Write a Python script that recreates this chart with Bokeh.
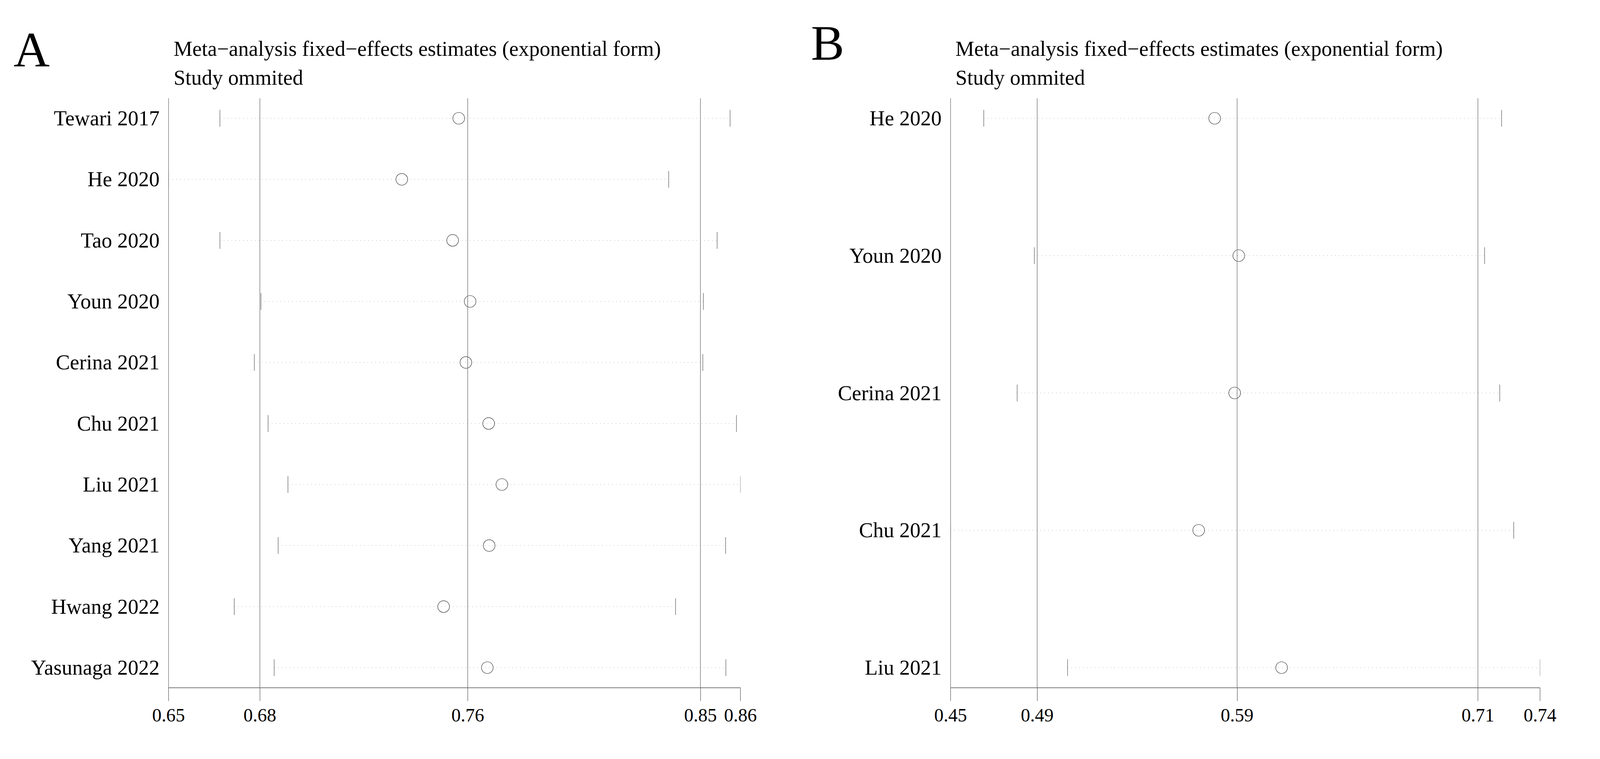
import math
from bokeh.plotting import figure
from bokeh.models import Range1d, FixedTicker, Span, ColumnDataSource
from bokeh.layouts import row, column
from bokeh.core.properties import value
from bokeh.embed import file_html
from bokeh.resources import INLINE

# ---------------- data ----------------
title_line1 = "Meta\u2212analysis fixed\u2212effects estimates (exponential form)"
title_line2 = "Study ommited"

studies_a = ["Tewari 2017", "He 2020", "Tao 2020", "Youn 2020", "Cerina 2021",
             "Chu 2021", "Liu 2021", "Yang 2021", "Hwang 2022", "Yasunaga 2022"]
est_a = [0.7581, 0.7366, 0.7558, 0.7624, 0.7608, 0.7694, 0.7744, 0.7696, 0.7524, 0.7689]
lo_a = [0.6679, 0.6485, 0.6679, 0.6834, 0.6809, 0.6861, 0.6936, 0.6899, 0.6733, 0.6884]
hi_a = [0.8606, 0.8374, 0.8557, 0.8505, 0.8503, 0.8630, 0.8645, 0.8589, 0.8400, 0.8590]
ticks_a = [0.6485, 0.6830, 0.7615, 0.8494, 0.8645]
tick_labels_a = ["0.65", "0.68", "0.76", "0.85", "0.86"]

studies_b = ["He 2020", "Youn 2020", "Cerina 2021", "Chu 2021", "Liu 2021"]
est_b = [0.5797, 0.5916, 0.5896, 0.5718, 0.6128]
lo_b = [0.4656, 0.4906, 0.4821, 0.4492, 0.5070]
hi_b = [0.7215, 0.7131, 0.7206, 0.7275, 0.7405]
ticks_b = [0.4492, 0.4920, 0.5908, 0.7098, 0.7405]
tick_labels_b = ["0.45", "0.49", "0.59", "0.71", "0.74"]

# ---------------- layout ----------------
# the visible page is 4096 px wide and 1944 px tall: horizontal reference
# positions are scaled to that width, vertical ones are kept.
SX = 4096 / 6000.0


def cx(v):
    return v * SX


FONT = "Liberation Serif"
FS_PX = 54
FS = "%dpx" % FS_PX
TICK_FS = "48px"
LETTER_PX = 128
LETTER_FS = "%dpx" % LETTER_PX
PANEL_W = 2040
HEAD_H = 240
PLOT_H = 1688
MID = 0.3375


def header(letter, letter_x, letter_base, title_x, page_left):
    h = figure(width=PANEL_W, height=HEAD_H, output_backend="svg", toolbar_location=None,
               x_range=Range1d(0, PANEL_W), y_range=Range1d(HEAD_H, 0),
               min_border=0, min_border_left=0, min_border_right=0,
               min_border_top=0, min_border_bottom=0)
    h.axis.visible = False
    h.grid.visible = False
    h.outline_line_color = None
    h.text(x=[cx(letter_x) - page_left], y=[letter_base - MID * LETTER_PX + 12 - 8],
           text=[letter], text_font=value(FONT), text_font_size=value(LETTER_FS),
           text_color="black", text_baseline="middle", text_align="left")
    tx = cx(title_x) - page_left
    h.text(x=[tx, tx], y=[141 - MID * FS_PX + 10 - 8, 215 - MID * FS_PX + 10 - 8],
           text=[title_line1, title_line2],
           text_font=value(FONT), text_font_size=value(FS), text_color="black",
           text_baseline="middle", text_align="left")
    return h


def panel(studies, est, lo, hi, ticks, tick_labels, border_left, border_right):
    n = len(studies)
    border_top = 11
    border_bottom = 167
    frame_h = PLOT_H - border_top - border_bottom
    pad_px = 51.5
    spacing = (frame_h - 2 * pad_px) / (n - 1)
    pad = pad_px / spacing
    ys = list(range(1, n + 1))

    p = figure(width=PANEL_W, height=PLOT_H, output_backend="svg", toolbar_location=None,
               x_range=Range1d(min(ticks), max(ticks)),
               y_range=Range1d(n + pad, 1 - pad),
               min_border_left=border_left, min_border_right=border_right,
               min_border_top=border_top, min_border_bottom=border_bottom)
    p.outline_line_color = None
    p.xgrid.visible = False
    p.ygrid.visible = False

    # reference lines: overall lower CI, estimate, upper CI
    for v in ticks[1:4]:
        p.add_layout(Span(location=v, dimension="height",
                          line_color="#5e5e5e", line_width=1.2))

    src = ColumnDataSource(dict(y=ys, est=est, lo=lo, hi=hi))
    p.segment(x0="lo", y0="y", x1="hi", y1="y", source=src,
              line_color="#888888", line_width=1.5, line_dash="1 9")
    p.scatter(x="lo", y="y", source=src, marker="dash", angle=math.pi / 2,
              size=43, line_color="#555555", line_width=1.2)
    p.scatter(x="hi", y="y", source=src, marker="dash", angle=math.pi / 2,
              size=43, line_color="#555555", line_width=1.2)
    p.scatter(x="est", y="y", source=src, marker="circle", size=30,
              fill_color=None, line_color="#333333", line_width=1.2)

    xa = p.xaxis[0]
    xa.ticker = FixedTicker(ticks=ticks)
    xa.major_label_overrides = {t: l for t, l in zip(ticks, tick_labels)}
    xa.axis_line_color = "#777777"
    xa.axis_line_width = 2
    xa.major_tick_line_color = "#555555"
    xa.major_tick_line_width = 1.2
    xa.major_tick_out = 34
    xa.major_tick_in = 0
    xa.minor_tick_out = 0
    xa.minor_tick_in = 0
    xa.major_label_text_font = FONT
    xa.major_label_text_font_size = TICK_FS
    xa.major_label_text_color = "black"
    xa.major_label_standoff = 20

    ya = p.yaxis[0]
    ya.ticker = FixedTicker(ticks=ys)
    ya.major_label_overrides = {y: s for y, s in zip(ys, studies)}
    ya.axis_line_color = "#666666"
    ya.axis_line_width = 1.2
    ya.major_tick_out = 0
    ya.major_tick_in = 0
    ya.minor_tick_out = 0
    ya.minor_tick_in = 0
    ya.major_label_text_font = FONT
    ya.major_label_text_font_size = FS
    ya.major_label_text_color = "black"
    ya.major_label_standoff = round(cx(33))
    return p


ha = header("A", 62, 166, 662, 8)
hb = header("B", 3052, 149, 3594, 2048)
pa = panel(studies_a, est_a, lo_a, hi_a, ticks_a, tick_labels_a,
           border_left=round(cx(643) - 8), border_right=round(2048 - cx(2787)))
pb = panel(studies_b, est_b, lo_b, hi_b, ticks_b, tick_labels_b,
           border_left=round(cx(3575) - 2048), border_right=round(4088 - cx(5786)))

layout = column(row(ha, hb), row(pa, pb))
open("out.html", "w").write(file_html(layout, INLINE))
